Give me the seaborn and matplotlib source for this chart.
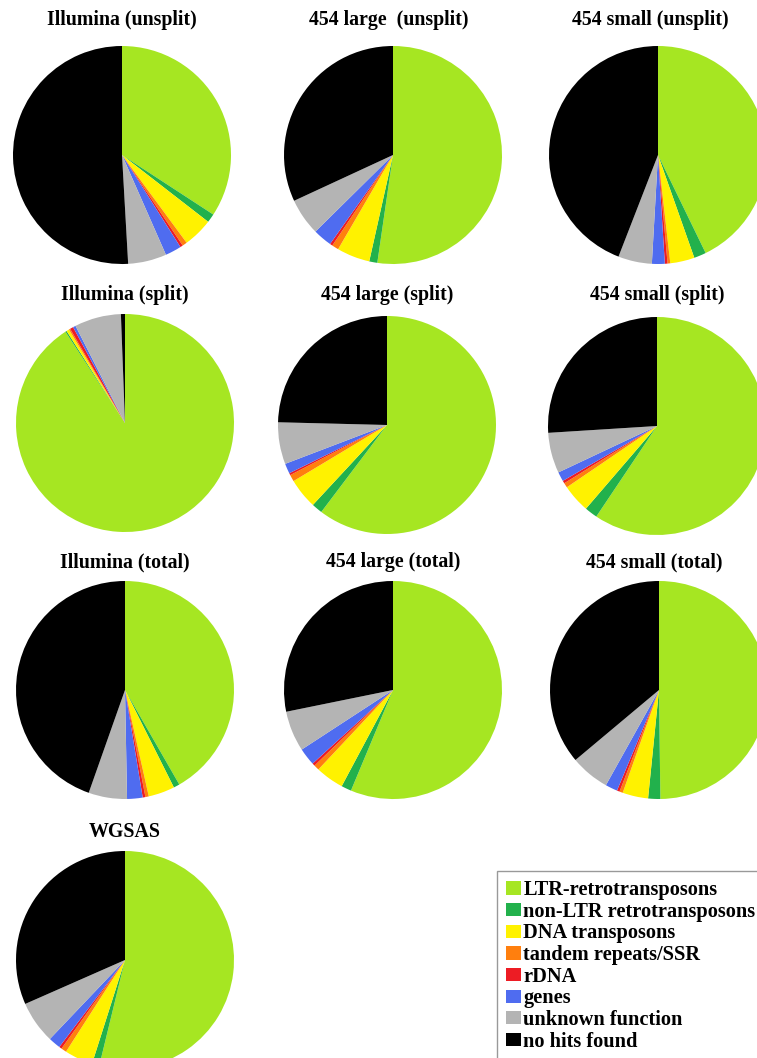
import matplotlib
matplotlib.use("Agg")
import matplotlib.pyplot as plt
from matplotlib.patches import Patch
import seaborn as sns

# categories, in the order the wedges run (clockwise from 12 o'clock)
categories = [
    "LTR-retrotransposons", "non-LTR retrotransposons", "DNA transposons",
    "tandem repeats/SSR", "rDNA", "genes", "unknown function", "no hits found",
]
category_colors = ["#a6e622", "#22b14c", "#fff200", "#ff7f0e",
                   "#ed1c24", "#4f6cf0", "#b4b4b4", "#000000"]

# percentages
illumina_unsplit = [34.2, 1.3, 4.4, 0.7, 0.4, 2.4, 5.7, 50.9]
large_unsplit = [52.3, 1.2, 4.9, 1.0, 0.4, 2.8, 5.5, 31.9]
small_unsplit = [42.8, 1.8, 3.6, 0.4, 0.4, 1.9, 5.0, 44.1]
illumina_split = [90.8, 0.2, 0.4, 0.2, 0.5, 0.4, 6.9, 0.6]
large_split = [60.3, 1.6, 4.5, 1.0, 0.3, 1.5, 6.2, 24.6]
small_split = [59.4, 1.9, 4.2, 0.7, 0.4, 1.4, 6.0, 26.0]
illumina_total = [41.7, 0.9, 3.9, 0.5, 0.4, 2.3, 5.7, 44.6]
large_total = [56.3, 1.5, 4.2, 0.8, 0.4, 2.6, 6.0, 28.2]
small_total = [49.8, 1.8, 3.8, 0.5, 0.4, 1.8, 5.8, 36.1]
wgsas = [53.8, 1.1, 4.2, 0.8, 0.4, 1.8, 6.3, 31.6]

titles = [
    "Illumina (unsplit)", "454 large  (unsplit)", "454 small (unsplit)",
    "Illumina (split)", "454 large (split)", "454 small (split)",
    "Illumina (total)", "454 large (total)", "454 small (total)",
    "WGSAS",
]
panel_values = [
    illumina_unsplit, large_unsplit, small_unsplit,
    illumina_split, large_split, small_split,
    illumina_total, large_total, small_total,
    wgsas,
]

sns.set_theme(style="white")
plt.rcParams["font.family"] = ["Liberation Serif", "DejaVu Serif"]
plt.rcParams["text.color"] = "black"

W, H = 757, 1058
R = 109
# pie centre (px) and title y (px) for each panel
layout = [
    (122, 155, 20), (393, 155, 20), (658, 155, 20),
    (125, 423, 295), (387, 425, 295), (657, 426, 295),
    (125, 690, 562), (393, 690, 562), (659, 690, 562),
    (125, 960, 832),
]
title_dx = [0, -4, -8, 0, 0, 0, 0, 0, -5, 0]

palette = sns.color_palette(category_colors)

fig = plt.figure(figsize=(W / 100, H / 100), dpi=100)
fig.patch.set_facecolor("white")

for (cx, cy, ty), dx, title, vals in zip(layout, title_dx, titles, panel_values):
    ax = fig.add_axes([(cx - R) / W, 1 - (cy + R) / H, 2 * R / W, 2 * R / H])
    ax.pie(vals, colors=palette, startangle=90, counterclock=False,
           radius=1, wedgeprops=dict(linewidth=0))
    ax.set_xlim(-1, 1)
    ax.set_ylim(-1, 1)
    ax.axis("off")
    fig.text((cx + dx) / W, 1 - ty / H, title, ha="center", va="center",
             fontsize=14.3, fontweight="bold", color="black")

handles = [Patch(facecolor=c, edgecolor="none", label=lab)
           for c, lab in zip(palette, categories)]
leg = fig.legend(handles=handles, loc="upper left",
                 bbox_to_anchor=(497 / W, 1 - 871 / H),
                 prop=dict(family="Liberation Serif", weight="bold", size=14.7),
                 frameon=True, fancybox=False, edgecolor="#808080",
                 handlelength=0.72, handleheight=0.62, handletextpad=0.12,
                 labelspacing=0.08, borderpad=0.45, borderaxespad=0)
leg.get_frame().set_linewidth(1.0)
for t in leg.get_texts():
    t.set_color("black")

fig.savefig("out.png", dpi=100, facecolor="white")
